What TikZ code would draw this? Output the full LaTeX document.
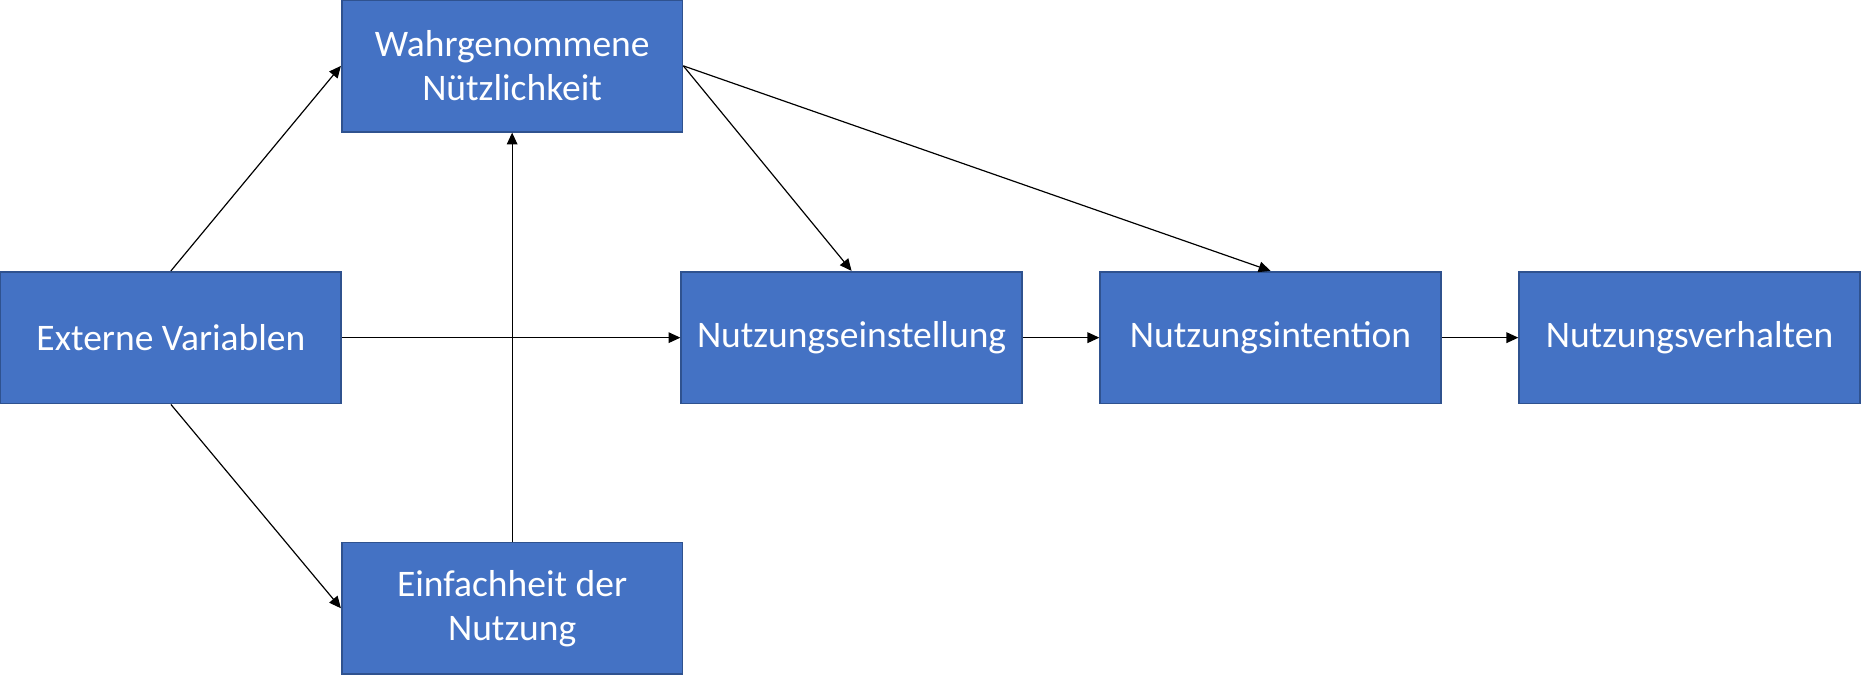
\documentclass[tikz,border=0pt]{standalone}
\usepackage{fontspec}
\setmainfont{Carlito}
\usetikzlibrary{arrows.meta}
\definecolor{boxfill}{HTML}{4472C4}
\definecolor{boxline}{HTML}{2F528F}
\begin{document}
\begin{tikzpicture}[x=1pt,y=-1pt,
  box/.style={draw=boxline,fill=boxfill,line width=1.5pt,minimum width=287pt,minimum height=111pt,inner sep=0pt,align=center,text=white,font=\fontsize{31.6}{37}\selectfont},
  arr/.style={draw=black,line width=1pt,-{Triangle[length=10pt,width=9pt]}}]
\useasboundingbox (0,0) rectangle (1568,569.3);
\node[box] (ext) at (144,284.5) {Externe Variablen};
\node[box] (wn) at (431.5,55.5) {Wahrgenommene\\Nützlichkeit};
\node[box] (ef) at (431.5,512.5) {Einfachheit der\\Nutzung};
\node[box] (ne) at (717.5,284.5) {Nutzungseinstellung};
\node[box] (ni) at (1070.5,284.5) {Nutzungsintention};
\node[box] (nv) at (1423.5,284.5) {Nutzungsverhalten};
\draw[arr] (ext.north) -- (wn.west);
\draw[arr] (ext.south) -- (ef.west);
\draw[arr] (ext.east) -- (ne.west);
\draw[arr] (ef.north) -- (wn.south);
\draw[arr] (wn.east) -- (ne.north);
\draw[arr] (wn.east) -- (ni.north);
\draw[arr] (ne.east) -- (ni.west);
\draw[arr] (ni.east) -- (nv.west);
\end{tikzpicture}
\end{document}
